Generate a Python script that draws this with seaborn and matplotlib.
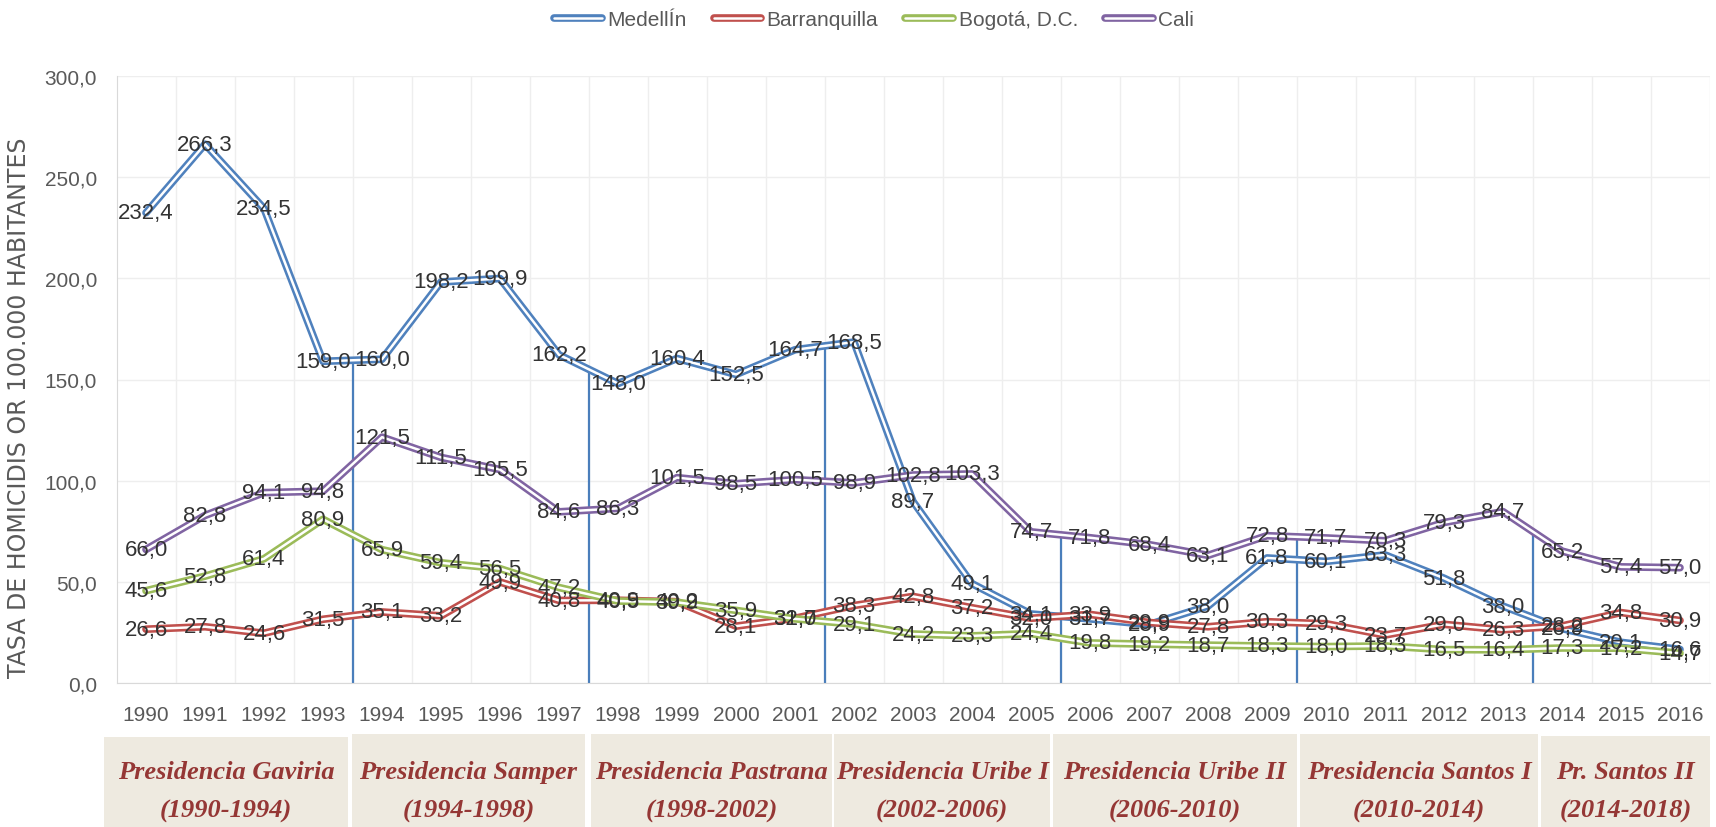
import numpy as np
import pandas as pd
import matplotlib.pyplot as plt
import matplotlib.patheffects as pe
from matplotlib.patches import Rectangle
import seaborn as sns

# data
years = list(range(1990, 2017))
medellin = [232.4, 266.3, 234.5, 159.0, 160.0, 198.2, 199.9, 162.2, 148.0, 160.4,
            152.5, 164.7, 168.5, 89.7, 49.1, 34.1, 31.7, 28.9, 38.0, 61.8,
            60.1, 63.3, 51.8, 38.0, 26.9, 20.1, 16.6]
barranquilla = [26.6, 27.8, 24.6, 31.5, 35.1, 33.2, 49.9, 40.8, 40.9, 40.2,
                28.1, 32.0, 38.3, 42.8, 37.2, 32.0, 33.9, 29.9, 27.8, 30.3,
                29.3, 23.7, 29.0, 26.3, 28.2, 34.8, 30.9]
bogota = [45.6, 52.8, 61.4, 80.9, 65.9, 59.4, 56.5, 47.2, 40.5, 39.9,
          35.9, 31.7, 29.1, 24.2, 23.3, 24.4, 19.8, 19.2, 18.7, 18.3,
          18.0, 18.3, 16.5, 16.4, 17.3, 17.2, 14.7]
cali = [66.0, 82.8, 94.1, 94.8, 121.5, 111.5, 105.5, 84.6, 86.3, 101.5,
        98.5, 100.5, 98.9, 102.8, 103.3, 74.7, 71.8, 68.4, 63.1, 72.8,
        71.7, 70.3, 79.3, 84.7, 65.2, 57.4, 57.0]

cities = ["MedellÍn", "Barranquilla", "Bogotá, D.C.", "Cali"]
colors = ["#4F81BD", "#C0504D", "#9BBB59", "#8064A2"]

periods = ["Presidencia Gaviria", "Presidencia Samper", "Presidencia Pastrana",
           "Presidencia Uribe I", "Presidencia Uribe II", "Presidencia Santos I",
           "Pr. Santos II"]
period_spans = ["(1990-1994)", "(1994-1998)", "(1998-2002)", "(2002-2006)",
                "(2006-2010)", "(2010-2014)", "(2014-2018)"]
period_start = [1990, 1994, 1998, 2002, 2006, 2010, 2014]

series = [medellin, barranquilla, bogota, cali]
df = pd.DataFrame({
    "year": years * 4,
    "rate": medellin + barranquilla + bogota + cali,
    "city": [c for c in cities for _ in years],
})

sns.set_style("white")
plt.rcParams["font.family"] = ["Liberation Sans", "DejaVu Sans"]

fig = plt.figure(figsize=(17.16, 8.28), dpi=100)
W, H = 1716, 828
ax = fig.add_axes([116.5 / W, (H - 684) / H, (1709.5 - 116.5) / W, (684 - 77) / H])

sns.lineplot(data=df, x="year", y="rate", hue="city", hue_order=cities,
             palette=colors, linewidth=5.5, ax=ax)
double = [pe.Normal(), pe.Stroke(linewidth=1.8, foreground="white")]
for line in ax.lines:
    line.set_path_effects(double)

# value labels, centred on the points
for vals in series:
    for x, v in zip(years, vals):
        ax.text(x, v, f"{v:.1f}".replace(".", ","), ha="center", va="center",
                fontsize=16, color="#333333", zorder=5)

# boundaries between presidencies
bounds = [s - 0.5 for s in period_start[1:]]
tops = [max(np.interp(b, years, s) for s in series) for b in bounds]
ax.vlines(bounds, 0, tops, color="#4A7EBB", linewidth=1.6, zorder=1)

ax.set_xlim(1989.5, 2016.5)
ax.set_ylim(0, 300)
ax.set_xticks(years)
ax.set_xticklabels([str(y) for y in years])
ax.set_xticks(np.arange(1990.5, 2017, 1), minor=True)
ax.set_yticks(range(0, 301, 50))
ax.set_yticklabels([f"{v:.1f}".replace(".", ",") for v in range(0, 301, 50)])
ax.tick_params(axis="both", which="both", length=0, labelsize=15, labelcolor="#595959")
ax.tick_params(axis="x", pad=16)
ax.tick_params(axis="y", pad=14)
ax.grid(which="minor", axis="x", color="#EEEEEE", linewidth=1)
ax.grid(which="major", axis="y", color="#EEEEEE", linewidth=1)
ax.set_axisbelow(True)
for side in ["top", "right"]:
    ax.spines[side].set_visible(False)
for side in ["left", "bottom"]:
    ax.spines[side].set_color("#D9D9D9")
ax.set_xlabel("")
ax.set_ylabel("TASA DE HOMICIDIS OR 100.000 HABITANTES", fontsize=17,
              color="#595959", family="DejaVu Sans")
ax.yaxis.set_label_coords(-0.0535, 0.455)

handles, labels = ax.get_legend_handles_labels()
leg = ax.legend(handles, labels, loc="center", bbox_to_anchor=(874 / W, 1 - 21 / H),
                bbox_transform=fig.transFigure, ncol=4, frameon=False, fontsize=15,
                handlelength=2.3, handletextpad=0.25, columnspacing=1.3)
for h in leg.get_lines():
    h.set_linewidth(5.5)
    h.set_path_effects(double)
for t in leg.get_texts():
    t.set_color("#595959")

# presidency boxes below the axis
box_edges = [(104, 348, 738), (352, 585, 735), (591, 832, 735), (834, 1050, 735),
             (1053, 1297, 735), (1300, 1538, 735), (1541, 1710, 737)]
for (x0, x1, top), name, span in zip(box_edges, periods, period_spans):
    fig.patches.append(Rectangle((x0 / W, 0), (x1 - x0) / W, (H - top) / H,
                                 transform=fig.transFigure, facecolor="#EEEAE0",
                                 edgecolor="none"))
    xc = (x0 + x1) / 2 / W
    for txt, yy in [(name, 773), (span, 811)]:
        fig.text(xc, 1 - yy / H, txt, ha="center", va="center", fontsize=19,
                 family="Liberation Serif", style="italic", weight="bold",
                 color="#953735")

fig.savefig("out.png", dpi=100)
